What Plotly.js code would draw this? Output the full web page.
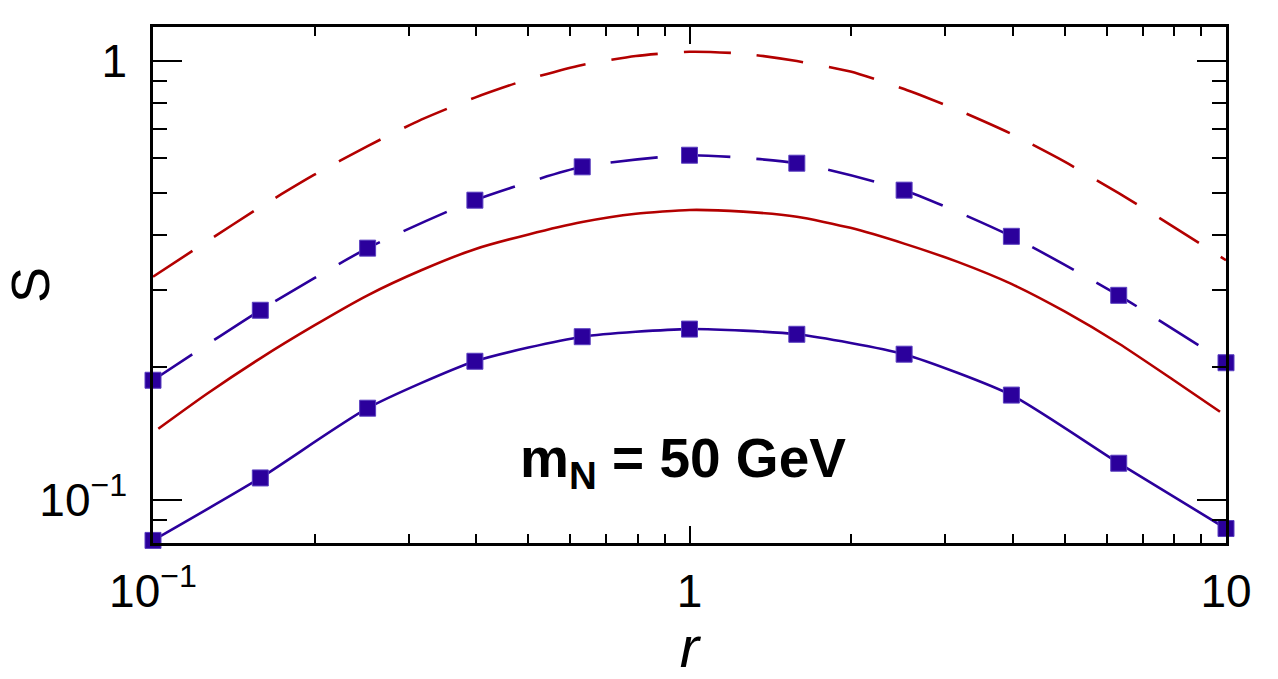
<!DOCTYPE html>
<html>
<head>
<meta charset="utf-8">
<script src="https://cdn.plot.ly/plotly-3.0.1.min.js"></script>
<style>
html, body { margin: 0; padding: 0; background: #ffffff; }
#chart { width: 1278px; height: 679px; }
</style>
</head>
<body>
<div id="chart"></div>
<script>
// r values where the blue square markers sit
const rMarkers = [0.1, 0.1585, 0.2512, 0.3981, 0.6310, 1.0, 1.585, 2.512, 3.981, 6.310, 10.0];
// blue solid curve with markers
const blueSolid = [0.0807, 0.112, 0.1615, 0.2066, 0.235, 0.2446, 0.238, 0.2144, 0.173, 0.121, 0.0859];
// blue dashed curve with markers
const blueDashed = [0.187, 0.270, 0.374, 0.481, 0.573, 0.609, 0.584, 0.507, 0.398, 0.292, 0.205];

// r values for the red curves
const rRedDashed = [0.1, 0.1259, 0.1585, 0.1995, 0.2512, 0.3162, 0.3981, 0.5012, 0.6310, 0.7943, 1.0,
                    1.259, 1.585, 1.995, 2.512, 3.162, 3.981, 5.012, 6.310, 7.943, 10.0];
const redDashed = [0.322, 0.387, 0.464, 0.549, 0.639, 0.734, 0.824, 0.908, 0.978, 1.025, 1.048,
                   1.038, 0.998, 0.945, 0.862, 0.772, 0.681, 0.588, 0.499, 0.420, 0.351];
const rRedSolid = [0.1023, 0.1259, 0.1585, 0.1995, 0.2512, 0.3162, 0.3981, 0.5012, 0.6310, 0.7943, 1.0,
                   1.259, 1.585, 1.995, 2.512, 3.162, 3.981, 5.012, 6.310, 7.943, 9.746];
const redSolid = [0.145, 0.174, 0.2098, 0.249, 0.292, 0.333, 0.372, 0.402, 0.429, 0.448, 0.457,
                  0.453, 0.441, 0.416, 0.383, 0.348, 0.310, 0.268, 0.2268, 0.188, 0.1585];

// axis tick values / labels
const xTickVals = [0.1, 1, 10];
const xTickText = ['10<sup>\u22121</sup>', '1', '10'];
const xMinorVals = [0.2, 0.3, 0.4, 0.5, 0.6, 0.7, 0.8, 0.9, 2, 3, 4, 5, 6, 7, 8, 9];
const yTickVals = [0.1, 1];
const yTickText = ['10<sup>\u22121</sup>', '1'];
const yMinorVals = [0.09, 0.2, 0.3, 0.4, 0.5, 0.6, 0.7, 0.8, 0.9];

const RED = '#b30000';
const BLUE = '#2b009c';
const DASH = '47px,26px';

const traces = [
  { x: rRedDashed, y: redDashed, mode: 'lines', type: 'scatter',
    line: { color: RED, width: 2.6, dash: DASH, shape: 'spline', smoothing: 0.6 } },
  { x: rRedSolid, y: redSolid, mode: 'lines', type: 'scatter',
    line: { color: RED, width: 2.6, shape: 'spline', smoothing: 0.6 } },
  { x: rMarkers, y: blueDashed, mode: 'lines+markers', type: 'scatter', cliponaxis: false,
    line: { color: BLUE, width: 2.6, dash: DASH, shape: 'spline', smoothing: 0.6 },
    marker: { symbol: 'square', size: 16, color: BLUE, line: { width: 1, color: '#5a3fc0' } } },
  { x: rMarkers, y: blueSolid, mode: 'lines+markers', type: 'scatter', cliponaxis: false,
    line: { color: BLUE, width: 2.6, shape: 'spline', smoothing: 0.6 },
    marker: { symbol: 'square', size: 16, color: BLUE, line: { width: 1, color: '#5a3fc0' } } }
];

const FONT = 'Liberation Sans, Arial, Helvetica, sans-serif';

const layout = {
  width: 1278, height: 679,
  margin: { l: 153, r: 52, t: 27, b: 136 },
  paper_bgcolor: '#ffffff', plot_bgcolor: '#ffffff',
  showlegend: false,
  font: { family: FONT, color: '#000000' },
  xaxis: {
    type: 'log', range: [-1, 1],
    tickmode: 'array', tickvals: xTickVals, ticktext: xTickText,
    ticks: 'inside', ticklen: 17, tickwidth: 2, tickcolor: '#000',
    minor: { tickmode: 'array', tickvals: xMinorVals, ticks: 'inside', ticklen: 9, tickwidth: 2, tickcolor: '#000', showgrid: false },
    showline: true, linecolor: '#000', linewidth: 2.6, mirror: 'allticks',
    showgrid: false, zeroline: false,
    tickfont: { size: 46, family: FONT, color: '#000' },
    ticklabelstandoff: 6,
    title: { text: '<i>r</i>', font: { size: 58, family: FONT, color: '#000' }, standoff: 4 }
  },
  yaxis: {
    type: 'log', range: [-1.099, 0.0768],
    tickmode: 'array', tickvals: yTickVals, ticktext: yTickText,
    ticks: 'inside', ticklen: 29, tickwidth: 2, tickcolor: '#000',
    minor: { tickmode: 'array', tickvals: yMinorVals, ticks: 'inside', ticklen: 14, tickwidth: 2, tickcolor: '#000', showgrid: false },
    showline: true, linecolor: '#000', linewidth: 2.6, mirror: 'allticks',
    showgrid: false, zeroline: false,
    tickfont: { size: 46, family: FONT, color: '#000' },
    ticklabelstandoff: 14,
    title: { text: 'S', font: { size: 54, family: FONT, color: '#000' }, standoff: 22 }
  },
  annotations: [
    { xref: 'paper', yref: 'paper', x: 0.494, y: 0.157, xanchor: 'center', yanchor: 'middle',
      showarrow: false, text: '<b>m<sub>N</sub> = 50 GeV</b>',
      font: { size: 55, family: FONT, color: '#000' } }
  ]
};

Plotly.newPlot('chart', traces, layout, { displayModeBar: false, staticPlot: true });
</script>
</body>
</html>
